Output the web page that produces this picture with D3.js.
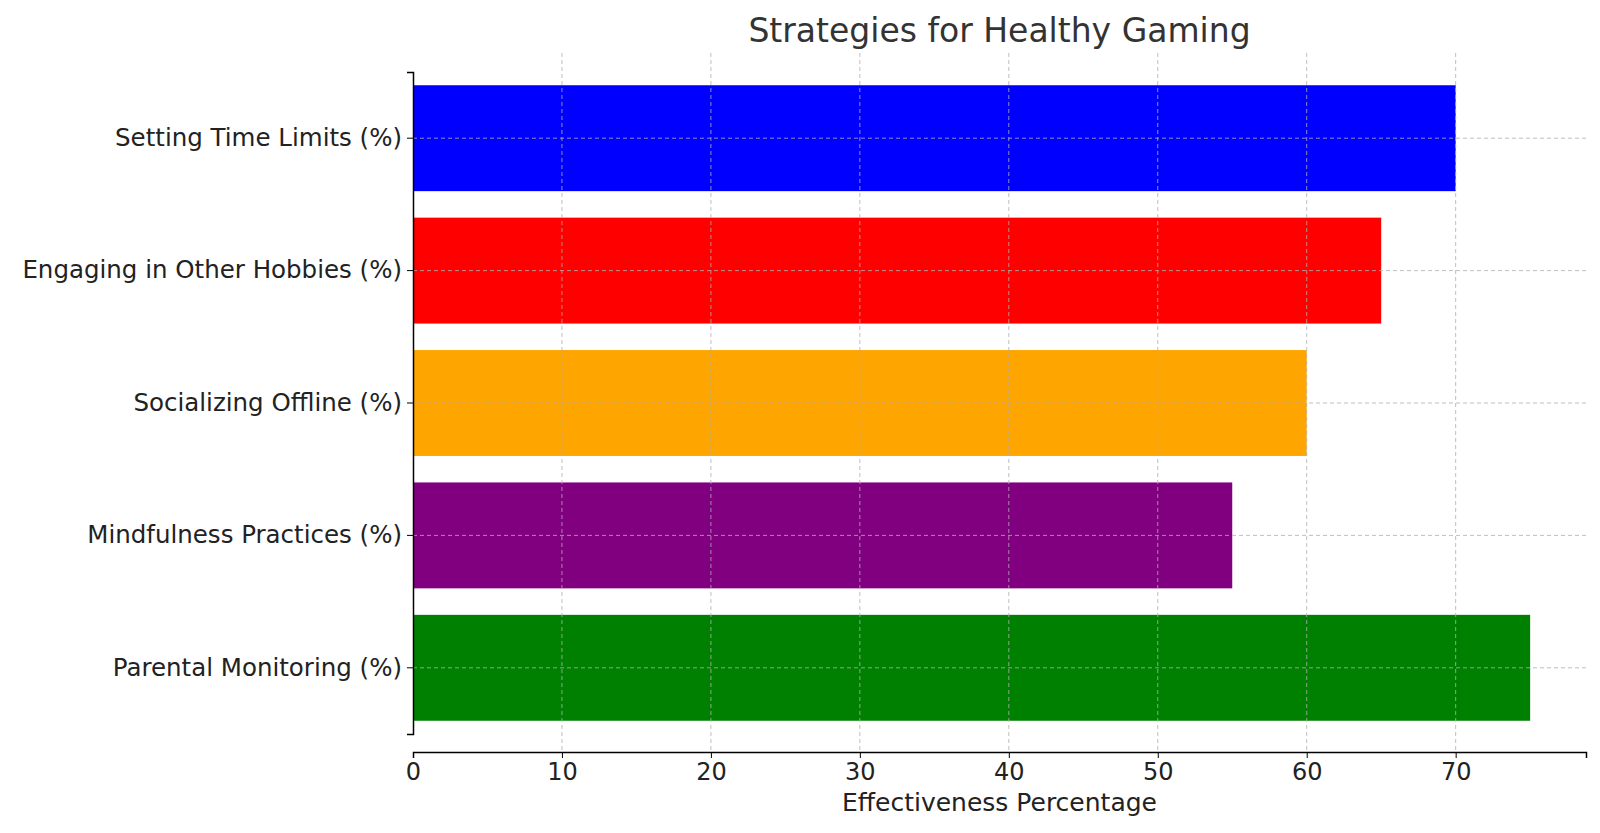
<!DOCTYPE html>
<html><head><meta charset="utf-8">
<script src="https://cdn.jsdelivr.net/npm/d3@7"></script>
<style>body{margin:0;background:#fff;font-family:"DejaVu Sans",sans-serif;}</style>
</head><body><svg id="c" width="1600" height="833"></svg>
<script>
const categories = ["Setting Time Limits (%)","Engaging in Other Hobbies (%)","Socializing Offline (%)","Mindfulness Practices (%)","Parental Monitoring (%)"];
const values = [70,65,60,55,75];
const colors = ["blue","red","orange","purple","green"];
const xTicks = [0,10,20,30,40,50,60,70];

const svg = d3.select("#c");
const L=413,R=1586,T=53,B=752;
const x = d3.scaleLinear().domain([0,78.75]).range([L,R]);
const y = d3.scaleBand().domain(categories).range([72,734]).paddingInner(0.2).paddingOuter(0.1);

svg.selectAll("rect.bar").data(categories).join("rect")
  .attr("x",x(0)).attr("y",d=>y(d)).attr("height",y.bandwidth())
  .attr("width",(d,i)=>x(values[i])-x(0)).attr("fill",(d,i)=>colors[i]);

const g = svg.append("g");
g.selectAll("line.vx").data(xTicks.slice(1)).join("line")
  .attr("x1",d=>x(d)).attr("x2",d=>x(d)).attr("y1",T).attr("y2",B)
  .attr("stroke","#b0b0b0").attr("stroke-width",1).attr("stroke-dasharray","4,3").attr("opacity",0.8);
g.selectAll("line.hy").data(categories).join("line")
  .attr("x1",L).attr("x2",R).attr("y1",d=>y(d)+y.bandwidth()/2).attr("y2",d=>y(d)+y.bandwidth()/2)
  .attr("stroke","#b0b0b0").attr("stroke-width",1).attr("stroke-dasharray","4,3").attr("opacity",0.8);

const xa = svg.append("g").attr("transform",`translate(0,${B})`)
  .call(d3.axisBottom(x).tickValues(xTicks).tickSize(6).tickPadding(5));
xa.select(".domain").attr("stroke","#000").attr("stroke-width",1.5);
xa.selectAll("text").attr("font-size",24).attr("font-family","DejaVu Sans").attr("fill","#222");
const ya = svg.append("g").attr("transform",`translate(${L},0)`)
  .call(d3.axisLeft(y).tickSize(6).tickPadding(5));
ya.select(".domain").attr("stroke","#000").attr("stroke-width",1.5);
ya.selectAll("text").attr("font-size",24.5).attr("font-family","DejaVu Sans").attr("fill","#222");

svg.append("text").attr("x",(L+R)/2).attr("y",811).attr("text-anchor","middle")
  .attr("font-size",25).attr("fill","#222").text("Effectiveness Percentage");
svg.append("text").attr("x",(L+R)/2).attr("y",42).attr("text-anchor","middle")
  .attr("font-size",33).attr("fill","#333").text("Strategies for Healthy Gaming");
</script></body></html>
